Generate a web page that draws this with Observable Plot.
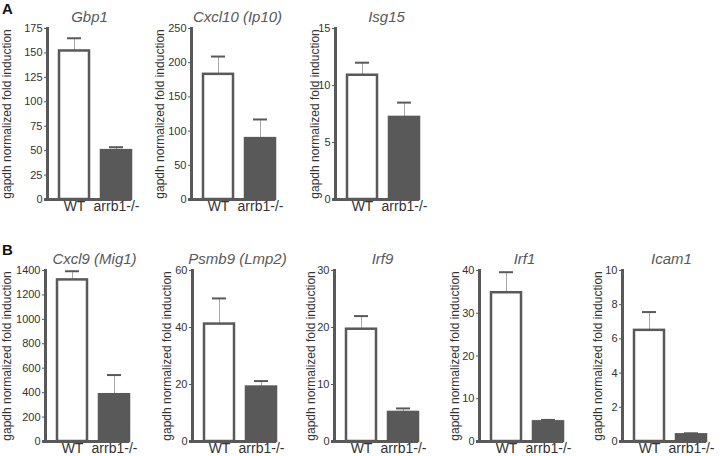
<!DOCTYPE html>
<html>
<head>
<meta charset="utf-8">
<script src="https://cdn.jsdelivr.net/npm/d3@7"></script>
<script src="https://cdn.jsdelivr.net/npm/@observablehq/plot@0.6"></script>
<style>
  html, body { margin: 0; padding: 0; background: #fff; overflow: hidden; }
  #chart { position: relative; width: 725px; height: 456px; font-family: "Liberation Sans", Arial, sans-serif; }
  .letter { position: absolute; font-weight: bold; font-size: 15px; color: #111; }
</style>
</head>
<body>
<div id="chart"></div>
<script>
// ---- data ----
const genes = ["Gbp1", "Cxcl10 (Ip10)", "Isg15", "Cxcl9 (Mig1)", "Psmb9 (Lmp2)", "Irf9", "Irf1", "Icam1"];
const groups = ["WT", "arrb1-/-"];
const wtMean = [152, 183, 10.9, 1323, 41.2, 19.7, 34.8, 6.5];
const wtSem  = [13, 26, 1.1, 71, 9.0, 2.3, 4.8, 1.07];
const koMean = [50, 89, 7.2, 383, 19.1, 5.1, 4.6, 0.39];
const koSem  = [3.5, 28, 1.3, 161, 2.1, 0.7, 0.45, 0.09];
const yTicks = [
  [0, 25, 50, 75, 100, 125, 150, 175],
  [0, 50, 100, 150, 200, 250],
  [0, 5, 10, 15],
  [0, 200, 400, 600, 800, 1000, 1200, 1400],
  [0, 20, 40, 60],
  [0, 10, 20, 30],
  [0, 10, 20, 30, 40],
  [0, 2, 4, 6, 8, 10]
];
const yLabel = "gapdh normalized fold induction";
const panelLetters = ["A", "B"];

// ---- layout (positions / styles) ----
const layout = [
  {row: 0, axisX: 47,  labelDist: 40, titleDx: 0},
  {row: 0, axisX: 191, labelDist: 31, titleDx: 4},
  {row: 0, axisX: 335, labelDist: 20, titleDx: 9},
  {row: 1, axisX: 45,  labelDist: 38, titleDx: 7},
  {row: 1, axisX: 192, labelDist: 25, titleDx: 3},
  {row: 1, axisX: 334, labelDist: 23, titleDx: 6},
  {row: 1, axisX: 479, labelDist: 24, titleDx: 3},
  {row: 1, axisX: 622, labelDist: 24, titleDx: 7}
];
const rowTop = [0, 242];
const letterPos = [{left: 2, top: 0}, {left: 2, top: 241}];
const dark = "#595959";
const marginLeft = 50, frameW = 84, marginRight = 6;

const chart = document.getElementById("chart");

genes.forEach((gene, i) => {
  const L = layout[i];
  const data = [
    {group: groups[0], value: wtMean[i], upper: wtMean[i] + wtSem[i]},
    {group: groups[1], value: koMean[i], upper: koMean[i] + koSem[i]}
  ];
  const ticks = yTicks[i];
  const svg = Plot.plot({
    width: marginLeft + frameW + marginRight,
    height: 214,
    marginLeft,
    marginRight,
    marginTop: 28,
    marginBottom: 15,
    style: {fontFamily: "Liberation Sans, Arial, sans-serif", color: "#333", background: "transparent", overflow: "visible"},
    x: {domain: groups, paddingInner: 0.28, paddingOuter: 0.14, align: 1, axis: null},
    y: {domain: [0, d3.max(ticks)], axis: null},
    marks: [
      Plot.axisY({ticks, tickSize: 3, tickPadding: 2, fontSize: 11, stroke: dark,
        tickFormat: d => String(d), label: null}),
      Plot.text([yLabel], {frameAnchor: "left", rotate: -90, dx: -L.labelDist, textAnchor: "middle",
        lineAnchor: "middle", fontSize: 12, fill: "#333"}),
      Plot.axisX({tickSize: 0, tickPadding: 1.5, fontSize: 14, label: null}),
      Plot.ruleX(data, {x: "group", y1: "value", y2: "upper", stroke: "#a8a8a8", strokeWidth: 1}),
      Plot.barY(data, {x: "group", y: "value", fill: d => d.group === groups[0] ? "#ffffff" : dark,
        stroke: dark, strokeWidth: 2.5}),
      Plot.tickY(data, {x: "group", y: "upper", stroke: dark, strokeWidth: 2, insetLeft: 8, insetRight: 8}),
      Plot.frame({anchor: "left", stroke: dark, strokeWidth: 3}),
      Plot.ruleY([0], {stroke: dark, strokeWidth: 3, insetLeft: -3}),
      Plot.text([gene], {frameAnchor: "top", dy: -11, dx: L.titleDx, lineAnchor: "middle",
        fontSize: 15, fontStyle: "italic", fill: dark})
    ]
  });
  svg.style.position = "absolute";
  svg.style.left = (L.axisX - marginLeft) + "px";
  svg.style.top = rowTop[L.row] + "px";
  chart.appendChild(svg);
});

panelLetters.forEach((t, k) => {
  const d = document.createElement("div");
  d.className = "letter";
  d.textContent = t;
  d.style.left = letterPos[k].left + "px";
  d.style.top = letterPos[k].top + "px";
  chart.appendChild(d);
});
</script>
</body>
</html>
